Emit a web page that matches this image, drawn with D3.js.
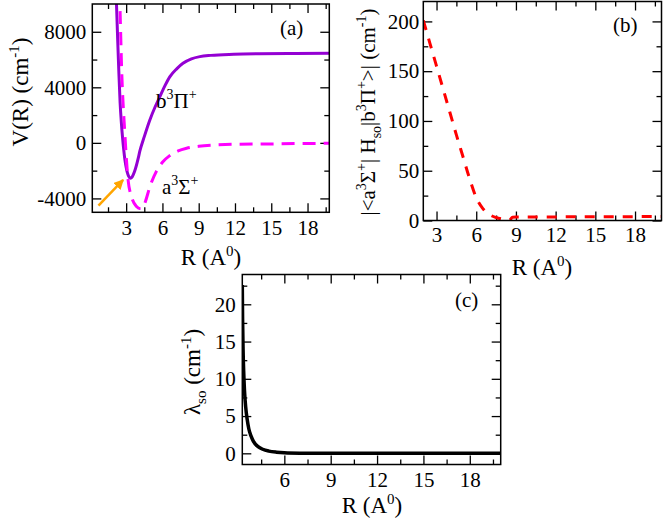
<!DOCTYPE html>
<html><head><meta charset="utf-8">
<script src="https://cdn.jsdelivr.net/npm/d3@7"></script>
<style>
body{margin:0;background:#fff}
svg{display:block}
svg text{font-family:'Liberation Serif','Times New Roman',Times,'DejaVu Serif','Noto Serif',serif !important;fill:#000}
</style>
</head><body>
<script>
// ---- data ----
const bPiR = [2.15, 2.2, 2.3, 2.4, 2.5, 2.6, 2.7, 2.8, 2.9, 3.0, 3.1, 3.2, 3.35, 3.5, 3.7, 4.0, 4.13, 4.5, 4.96, 5.4, 5.79, 6.2, 6.62, 7.2, 7.7, 8.4, 9.1, 10, 11.9, 14, 17, 20];
const bPiV = [11000, 10000, 7400, 5000, 2900, 1500, 400, -500, -1230, -1750, -2150, -2400, -2550, -2450, -2050, -1100, -600, 450, 1650, 2600, 3330, 4100, 4770, 5350, 5730, 6050, 6210, 6300, 6380, 6420, 6440, 6450];
const aSigR = [2.44, 2.48, 2.62, 2.89, 3.16, 3.44, 3.86, 4.1, 4.35, 4.6, 4.96, 5.5, 6.0, 6.6, 7.3, 8, 9, 10.5, 12, 14.6, 17, 20];
const aSigV = [11000, 10000, 5490, 690, -2670, -3870, -4590, -4720, -4700, -4200, -3160, -2050, -1400, -920, -580, -390, -250, -150, -100, -80, -50, -30];
const arrowR = [0.71, 2.75];
const arrowV = [-4520, -2670];

const hsoR = [2, 2.5, 3, 3.5, 4, 4.5, 5, 5.5, 6, 6.5, 7, 7.5, 8, 8.5, 8.75, 9, 10, 12, 15, 18, 20];
const hsoV = [201, 178, 155, 132, 109, 86, 64, 42, 23, 12, 6, 3, 1.3, 0.3, 3.2, 3.4, 3.5, 3.6, 3.8, 3.9, 4];

const lamR = [3.28, 3.30, 3.33, 3.37, 3.42, 3.50, 3.60, 3.70, 3.85, 4.0, 4.3, 4.6, 5.0, 5.5, 6.0, 7.0, 9.0, 12, 20];
const lamV = [22.6, 18, 14, 11, 8.5, 6.2, 4.5, 3.3, 2.3, 1.6, 0.9, 0.55, 0.3, 0.15, 0.07, 0.02, 0, 0, 0];

const xMajor = [3, 6, 9, 12, 15, 18];
const xMinor = [1.5, 4.5, 7.5, 10.5, 13.5, 16.5, 19.5];
const aYMajor = [-4000, 0, 4000, 8000];
const aYMinor = [-2000, 2000, 6000];
const bYMajor = [0, 50, 100, 150, 200];
const bYMinor = [25, 75, 125, 175];
const cYMajor = [0, 5, 10, 15, 20];
const cYMinor = [2.5, 7.5, 12.5, 17.5, 22.5];

// ---- drawing ----
const W = 664, H = 522;
const FONT = "'Liberation Serif','Times New Roman',Times,'DejaVu Serif','Noto Serif',serif";
const svg = d3.select("body").append("svg").attr("width", W).attr("height", H).attr("font-family", FONT);
const defs = svg.append("defs");
defs.append("marker").attr("id", "arrowhead").attr("viewBox", "0 0 10 10")
  .attr("refX", 9).attr("refY", 5).attr("markerWidth", 4).attr("markerHeight", 4)
  .attr("orient", "auto").attr("markerUnits", "strokeWidth")
  .append("path").attr("d", "M0,0 L10,5 L0,10 z").attr("fill", "#FFA500");

const TICK = 21, LAB = 23;
const fmt = v => String(v);

function panel(id, xd, xr, yd, yr, yMaj, yMin, xMaj, xMin, xPad, yPad) {
  const x = d3.scaleLinear().domain(xd).range(xr);
  const y = d3.scaleLinear().domain(yd).range(yr);
  const g = svg.append("g");
  defs.append("clipPath").attr("id", "clip" + id).append("rect")
    .attr("x", xr[0]).attr("y", yr[1]).attr("width", xr[1] - xr[0]).attr("height", yr[0] - yr[1]);
  const xMajIn = xMaj.filter(v => v >= xd[0] && v <= xd[1]);
  const xMinIn = xMin.filter(v => v >= xd[0] && v <= xd[1]);
  const mk = (axisFn, sc, vals, size, pad) => {
    const a = axisFn(sc).tickValues(vals).tickSize(-size).tickPadding(pad || 0);
    a.tickFormat(pad ? fmt : () => "");
    return a;
  };
  const add = (a, tx, ty) => {
    const ag = g.append("g").attr("transform", `translate(${tx},${ty})`).call(a);
    ag.attr("font-family", FONT);
    ag.select(".domain").remove();
    ag.selectAll("line").attr("stroke", "#000").attr("stroke-width", 1.3);
    ag.selectAll("text").style("font-size", TICK + "px").attr("fill", "#000");
    return ag;
  };
  add(mk(d3.axisBottom, x, xMajIn, 9, xPad), 0, yr[0]);
  add(mk(d3.axisBottom, x, xMinIn, 5, 0), 0, yr[0]);
  add(mk(d3.axisTop, x, xMajIn, 9, 0), 0, yr[1]);
  add(mk(d3.axisTop, x, xMinIn, 5, 0), 0, yr[1]);
  add(mk(d3.axisLeft, y, yMaj, 9, yPad), xr[0], 0);
  add(mk(d3.axisLeft, y, yMin, 5, 0), xr[0], 0);
  add(mk(d3.axisRight, y, yMaj, 9, 0), xr[1], 0);
  add(mk(d3.axisRight, y, yMin, 5, 0), xr[1], 0);
  const plot = g.append("g").attr("clip-path", `url(#clip${id})`);
  g.append("rect").attr("x", xr[0]).attr("y", yr[1]).attr("width", xr[1] - xr[0]).attr("height", yr[0] - yr[1])
    .attr("fill", "none").attr("stroke", "#000").attr("stroke-width", 1.5);
  return {x, y, g, plot};
}

function rich(sel, parts, size) {
  let shift = 0;
  parts.forEach(([t, k]) => {
    const target = k === "sup" ? -9 : k === "sub" ? 6 : 0;
    const ts = sel.append("tspan").text(t).attr("dy", target - shift);
    if (k !== "n") ts.style("font-size", Math.round(size * 0.65) + "px");
    shift = target;
  });
}

function lineOf(p, R, V, color, width, dash) {
  const ln = d3.line().x((d, i) => p.x(R[i])).y((d, i) => p.y(V[i])).curve(d3.curveMonotoneX);
  const path = p.plot.append("path").datum(R).attr("d", ln).attr("fill", "none")
    .attr("stroke", color).attr("stroke-width", width).attr("stroke-linejoin", "round");
  if (dash) path.attr("stroke-dasharray", dash);
  return path;
}

// Panel (a)
const pa = panel("a", [0.2, 19.8], [92.3, 329.3], [-5000, 10000], [212.3, 4], aYMajor, aYMinor, xMajor, xMinor, 7.8, 6);
lineOf(pa, bPiR, bPiV, "#9400D3", 3);
lineOf(pa, aSigR, aSigV, "#FF00FF", 3, "13,8");
pa.plot.append("line").attr("x1", pa.x(arrowR[0])).attr("y1", pa.y(arrowV[0]))
  .attr("x2", pa.x(arrowR[1])).attr("y2", pa.y(arrowV[1]))
  .attr("stroke", "#FFA500").attr("stroke-width", 2.5).attr("marker-end", "url(#arrowhead)");
const ta = svg.append("text").attr("x", 156).attr("y", 108).style("font-size", "21px");
rich(ta, [["b", "n"], ["3", "sup"], ["Π", "n"], ["+", "sup"]], 21);
const tb = svg.append("text").attr("x", 162).attr("y", 194).style("font-size", "21px");
rich(tb, [["a", "n"], ["3", "sup"], ["Σ", "n"], ["+", "sup"]], 21);
svg.append("text").attr("x", 280).attr("y", 35).style("font-size", "21px").text("(a)");
const yla = svg.append("text").attr("transform", "translate(28,92) rotate(-90)").attr("text-anchor", "middle").style("font-size", LAB + "px");
rich(yla, [["V(R) (cm", "n"], ["-1", "sup"], [")", "n"]], LAB);
const xla = svg.append("text").attr("x", 211).attr("y", 265).attr("text-anchor", "middle").style("font-size", LAB + "px");
rich(xla, [["R (A", "n"], ["0", "sup"], [")", "n"]], LAB);

// Panel (b)
const pb = panel("b", [2, 20], [423.3, 661.5], [0, 220], [220.5, 1.5], bYMajor, bYMinor, xMajor, xMinor, 6.8, 4);
lineOf(pb, hsoR, hsoV, "#FF0000", 3, "10,9");
svg.append("text").attr("x", 613).attr("y", 32).style("font-size", "21px").text("(b)");
const ylb = svg.append("text").attr("transform", "translate(375,112) rotate(-90)").attr("text-anchor", "middle").style("font-size", "21px");
rich(ylb, [["|<a", "n"], ["3", "sup"], ["Σ", "n"], ["+", "sup"], ["| H", "n"], ["so", "sub"], ["|b", "n"], ["3", "sup"], ["Π", "n"], ["+", "sup"], [">| (cm", "n"], ["-1", "sup"], [")", "n"]], 21);
const xlb = svg.append("text").attr("x", 542).attr("y", 275).attr("text-anchor", "middle").style("font-size", LAB + "px");
rich(xlb, [["R (A", "n"], ["0", "sup"], [")", "n"]], LAB);

// Panel (c)
const pc = panel("c", [3.28, 20], [242.3, 500.7], [-1.5, 24], [464.5, 274.5], cYMajor, cYMinor, xMajor, xMinor, 7.6, 6.5);
lineOf(pc, lamR, lamV, "#000", 3.5);
svg.append("text").attr("x", 455).attr("y", 307).style("font-size", "21px").text("(c)");
const ylc = svg.append("text").attr("transform", "translate(200,372) rotate(-90)").attr("text-anchor", "middle").style("font-size", LAB + "px");
rich(ylc, [["λ", "n"], ["so", "sub"], [" (cm", "n"], ["-1", "sup"], [")", "n"]], LAB);
const xlc = svg.append("text").attr("x", 372).attr("y", 513).attr("text-anchor", "middle").style("font-size", LAB + "px");
rich(xlc, [["R (A", "n"], ["0", "sup"], [")", "n"]], LAB);
</script>
</body></html>
